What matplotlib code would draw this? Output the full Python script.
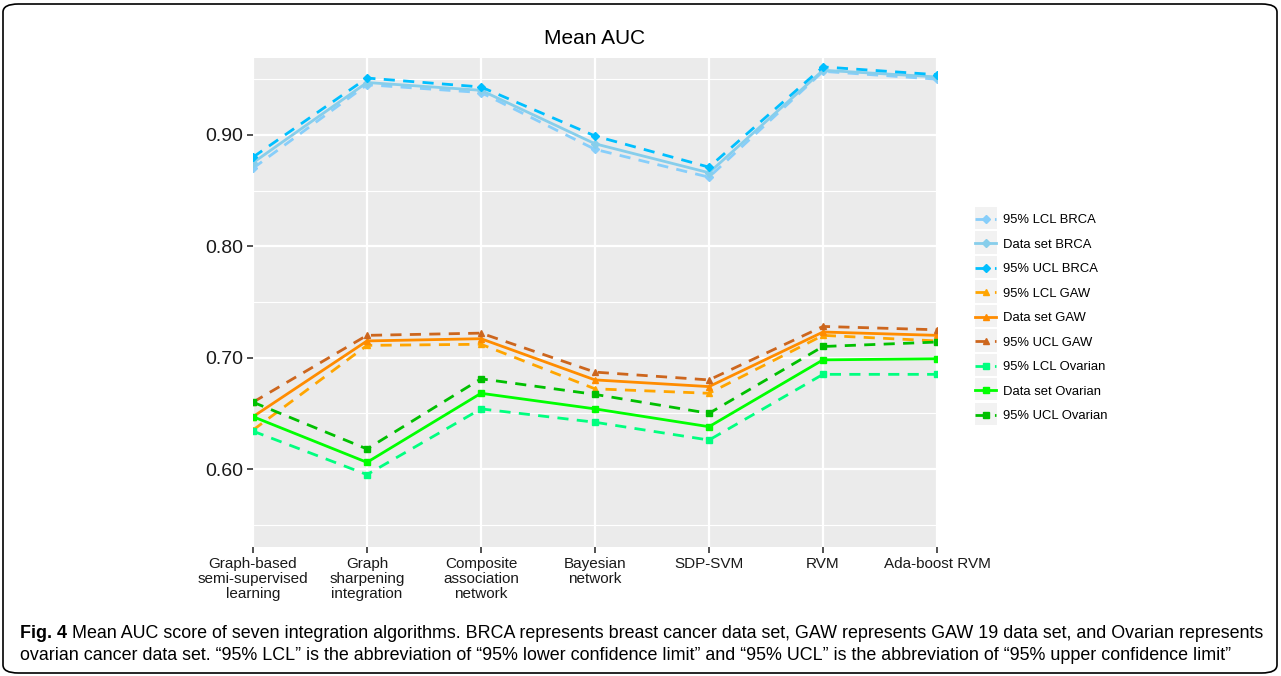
import matplotlib
matplotlib.use("Agg")
import matplotlib.pyplot as plt
from matplotlib.patches import FancyBboxPatch, Rectangle

plt.rcParams['font.family'] = ['Liberation Sans', 'DejaVu Sans']

algorithms = ["Graph-based\nsemi-supervised\nlearning", "Graph\nsharpening\nintegration",
              "Composite\nassociation\nnetwork", "Bayesian\nnetwork", "SDP-SVM", "RVM", "Ada-boost RVM"]

brca_lcl = [0.870, 0.945, 0.938, 0.887, 0.862, 0.957, 0.950]
brca_data = [0.875, 0.947, 0.940, 0.892, 0.866, 0.958, 0.952]
brca_ucl = [0.880, 0.951, 0.943, 0.899, 0.871, 0.961, 0.954]

gaw_lcl = [0.635, 0.711, 0.712, 0.672, 0.668, 0.720, 0.715]
gaw_data = [0.647, 0.715, 0.717, 0.680, 0.674, 0.723, 0.720]
gaw_ucl = [0.660, 0.720, 0.722, 0.687, 0.680, 0.728, 0.725]

ov_lcl = [0.634, 0.595, 0.654, 0.642, 0.626, 0.685, 0.685]
ov_data = [0.647, 0.606, 0.668, 0.654, 0.638, 0.698, 0.699]
ov_ucl = [0.660, 0.618, 0.681, 0.667, 0.650, 0.710, 0.714]

series = [
    ("95% LCL BRCA", brca_lcl, "#87CEFA", "D", "--"),
    ("Data set BRCA", brca_data, "#87CEEB", "D", "-"),
    ("95% UCL BRCA", brca_ucl, "#00BFFF", "D", "--"),
    ("95% LCL GAW", gaw_lcl, "#FFA500", "^", "--"),
    ("Data set GAW", gaw_data, "#FF8C00", "^", "-"),
    ("95% UCL GAW", gaw_ucl, "#CD661D", "^", "--"),
    ("95% LCL Ovarian", ov_lcl, "#00FF7F", "s", "--"),
    ("Data set Ovarian", ov_data, "#00FF00", "s", "-"),
    ("95% UCL Ovarian", ov_ucl, "#00C000", "s", "--"),
]

W, H = 1281, 676
fig = plt.figure(figsize=(W / 100, H / 100), dpi=100)
ax = fig.add_axes([253 / W, 1 - 547 / H, 684 / W, 489 / H])
ax.set_facecolor("#EBEBEB")

x = list(range(len(algorithms)))
for label, vals, col, mk, ls in series:
    ax.plot(x, vals, color=col, linestyle=ls, linewidth=2, marker=mk,
            markersize=4.5, label=label, dashes=(4, 3) if ls == "--" else (None, None))

ax.set_xlim(0, 6)
ax.set_ylim(0.530, 0.969)
ax.set_yticks([0.60, 0.70, 0.80, 0.90])
ax.set_yticklabels(["0.60", "0.70", "0.80", "0.90"], fontsize=14, color="#1A1A1A")
ax.set_yticks([0.55, 0.65, 0.75, 0.85, 0.95], minor=True)
ax.set_xticks(x)
ax.set_xticklabels(algorithms, fontsize=11, color="#1A1A1A", linespacing=1.12)
ax.grid(True, which="major", color="white", linewidth=1.6)
ax.grid(True, which="minor", axis="y", color="white", linewidth=0.8)
ax.set_axisbelow(True)
ax.tick_params(axis="both", which="major", length=4, width=1.2, color="#333333", pad=3)
ax.tick_params(axis="y", which="minor", length=0)
for s in ax.spines.values():
    s.set_visible(False)
ax.set_title("Mean AUC", fontsize=15, pad=10)

# legend with grey key boxes like ggplot
first_row = 218
step = 24.5
for i in range(len(series)):
    yc = first_row + step * i
    fig.patches.append(Rectangle((975 / W, 1 - (yc + 11) / H), 22 / W, 22 / H,
                                 transform=fig.transFigure, facecolor="#F2F2F2", edgecolor="none"))
leg = fig.legend(loc="upper left", bbox_to_anchor=(970 / W, 1 - 209 / H), frameon=False,
                 fontsize=9.4, handlelength=1.6, labelspacing=0.945, handletextpad=0.5,
                 borderaxespad=0)

fig.patches.append(FancyBboxPatch((3 / W, 3 / H), 1274 / W, 669 / H,
                                  boxstyle="round,pad=0,rounding_size=0.012",
                                  transform=fig.transFigure, fill=False,
                                  edgecolor="black", linewidth=1.2))

cap_font = 12.9
fig.canvas.draw()
r = fig.canvas.get_renderer()
t = fig.text(20 / W, 1 - 633 / H, "Fig. 4 ", fontsize=cap_font, fontweight="bold", va="center")
bb = t.get_window_extent(renderer=r)
fig.text(bb.x1 / W, 1 - 633 / H,
         "Mean AUC score of seven integration algorithms. BRCA represents breast cancer data set, "
         "GAW represents GAW 19 data set, and Ovarian represents",
         fontsize=cap_font, va="center")
fig.text(20 / W, 1 - 656 / H,
         "ovarian cancer data set. \u201c95% LCL\u201d is the abbreviation of \u201c95% lower confidence limit\u201d "
         "and \u201c95% UCL\u201d is the abbreviation of \u201c95% upper confidence limit\u201d",
         fontsize=cap_font, va="center")

fig.savefig("out.png", dpi=100)
